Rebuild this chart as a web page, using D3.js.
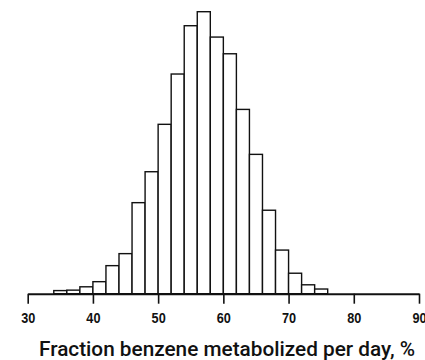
<!DOCTYPE html>
<html>
<head>
<meta charset="utf-8">
<script src="https://cdn.jsdelivr.net/npm/d3@7"></script>
<style>
body { margin: 0; background: #fff; }
</style>
</head>
<body>
<div id="chart"></div>
<script>
// histogram bins (lower edges, width 2) and relative frequencies
var binStarts = [34, 36, 38, 40, 42, 44, 46, 48, 50, 52, 54, 56, 58, 60, 62, 64, 66, 68, 70, 72, 74];
var binWidth = 2;
var freqs = [1.4, 1.6, 3.1, 5.4, 12.6, 18, 40.9, 54.8, 76.1, 98.7, 120.4, 126.7, 115.3, 107.8, 82.8, 62.6, 37.5, 19.6, 9.2, 4, 2.1];
var tickValues = [30, 40, 50, 60, 70, 80, 90];
var xTitle = "Fraction benzene metabolized per day, %";

function init(){

    var w = 425;
    var h = 360;

    var svg = d3.select("#chart")
                .append("svg")
                .attr("width", w)
                .attr("height", h);

    var x = d3.scaleLinear().domain([30, 90]).range([27.7, 419]);
    var y = d3.scaleLinear().domain([0, 126.7]).range([293.7, 11.7]);

    var data = binStarts.map(function(d, i) {
        return { x0: d, x1: d + binWidth, v: freqs[i] };
    });

    // bars
    svg.selectAll("rect.bar")
        .data(data)
        .enter()
        .append("rect")
        .attr("class", "bar")
        .attr("x", function(d) { return x(d.x0); })
        .attr("y", function(d) { return y(d.v); })
        .attr("width", function(d) { return x(d.x1) - x(d.x0); })
        .attr("height", function(d) { return y(0) - y(d.v); })
        .attr("fill", "#fff")
        .attr("stroke", "#111")
        .attr("stroke-width", 1.4);

    // x axis
    var axis = svg.append("g")
        .attr("transform", "translate(0," + y(0) + ")")
        .call(d3.axisBottom(x).tickValues(tickValues).tickSize(10).tickSizeOuter(0).tickFormat(d3.format("d")));

    axis.select(".domain").attr("stroke", "#111").attr("stroke-width", 2);
    axis.selectAll(".tick line").attr("stroke", "#111").attr("stroke-width", 1.6);
    // condensed bold labels
    axis.selectAll(".tick text")
        .attr("y", 29.6)
        .attr("dy", null)
        .attr("transform", "scale(0.82,1)")
        .attr("fill", "#111")
        .attr("font-family", "'Liberation Sans', sans-serif")
        .attr("font-weight", "bold")
        .attr("font-size", "15.5px");

    svg.append("text")
        .attr("x", 227)
        .attr("y", 356)
        .attr("text-anchor", "middle")
        .attr("font-family", "Roboto, 'Liberation Sans', sans-serif")
        .attr("font-weight", 500)
        .attr("font-size", "21px")
        .attr("textLength", 376)
        .attr("lengthAdjust", "spacingAndGlyphs")
        .attr("fill", "#111")
        .text(xTitle);
}

window.onload = init;
</script>
</body>
</html>
